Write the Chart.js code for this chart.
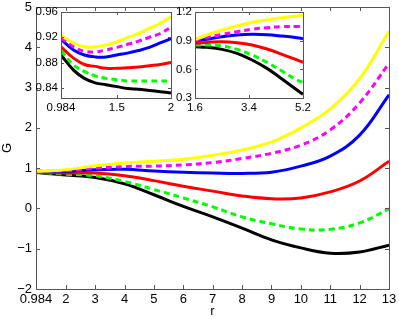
<!DOCTYPE html>
<html>
<head>
<meta charset="utf-8">
<script src="https://cdn.jsdelivr.net/npm/chart.js@4"></script>
<style>
  html, body { margin: 0; padding: 0; background: #fff; }
  #wrap { position: relative; width: 399px; height: 319px; }
  canvas { position: absolute; }
</style>
</head>
<body>
<div id="wrap">
  <canvas id="main" width="399" height="319" style="left:0;top:0"></canvas>
  <canvas id="inL" width="150" height="115" style="left:30px;top:0"></canvas>
  <canvas id="inR" width="155" height="115" style="left:165px;top:0"></canvas>
</div>
<script>
// main axes
const rMain = [0.984, 2, 3, 4, 5, 6, 7, 8, 9, 10, 11, 12, 13];
const mainYellow  = [0.92, 0.96, 1.06, 1.13, 1.17, 1.22, 1.32, 1.45, 1.65, 2.0, 2.47, 3.22, 4.4];
const mainMagenta = [0.92, 0.94, 1.0, 1.04, 1.05, 1.08, 1.14, 1.24, 1.37, 1.57, 1.95, 2.62, 3.6];
const mainBlue    = [0.92, 0.92, 0.96, 0.97, 0.93, 0.9, 0.88, 0.87, 0.9, 1.05, 1.3, 1.82, 2.82];
const mainRed     = [0.9, 0.88, 0.88, 0.81, 0.69, 0.55, 0.43, 0.31, 0.24, 0.26, 0.41, 0.68, 1.17];
const mainGreen   = [0.9, 0.85, 0.81, 0.67, 0.47, 0.26, 0.04, -0.21, -0.38, -0.51, -0.52, -0.36, -0.01];
const mainBlack   = [0.89, 0.83, 0.77, 0.61, 0.34, 0.05, -0.21, -0.49, -0.78, -0.98, -1.11, -1.08, -0.91];
const mainXTicks = [0.984, 2, 3, 4, 5, 6, 7, 8, 9, 10, 11, 12, 13];
const mainYTicks = [-2, -1, 0, 1, 2, 3, 4, 5];

// left inset (small r)
const rLeft = [0.984, 1.1, 1.2, 1.3, 1.4, 1.5, 1.6, 1.7, 1.8, 1.9, 2.0];
const leftYellow  = [0.923, 0.911, 0.905, 0.905, 0.908, 0.913, 0.92, 0.926, 0.934, 0.942, 0.953];
const leftMagenta = [0.919, 0.905, 0.898, 0.897, 0.9, 0.904, 0.909, 0.914, 0.92, 0.926, 0.936];
const leftBlue    = [0.917, 0.9, 0.892, 0.889, 0.889, 0.892, 0.895, 0.899, 0.904, 0.911, 0.918];
const leftRed     = [0.905, 0.887, 0.877, 0.874, 0.871, 0.871, 0.872, 0.873, 0.875, 0.877, 0.88];
const leftGreen   = [0.899, 0.876, 0.866, 0.859, 0.855, 0.853, 0.851, 0.851, 0.851, 0.851, 0.851];
const leftBlack   = [0.892, 0.868, 0.855, 0.848, 0.845, 0.842, 0.839, 0.838, 0.836, 0.834, 0.832];
const leftXTicks = [0.984, 1.5, 2];
const leftYTicks = [0.84, 0.88, 0.92, 0.96];

// right inset
const rRight = [1.6, 2, 2.5, 3, 3.5, 4, 4.5, 5, 5.2];
const rightYellow  = [0.914, 0.959, 1.012, 1.053, 1.092, 1.116, 1.141, 1.158, 1.169];
const rightMagenta = [0.907, 0.935, 0.966, 0.994, 1.019, 1.036, 1.047, 1.047, 1.047];
const rightBlue    = [0.897, 0.914, 0.942, 0.959, 0.966, 0.962, 0.948, 0.931, 0.921];
const rightRed     = [0.872, 0.882, 0.889, 0.879, 0.855, 0.813, 0.757, 0.698, 0.673];
const rightGreen   = [0.855, 0.855, 0.844, 0.809, 0.75, 0.673, 0.582, 0.488, 0.464];
const rightBlack   = [0.837, 0.83, 0.809, 0.767, 0.698, 0.61, 0.499, 0.384, 0.338];
const rightXTicks = [1.6, 3.4, 5.2];
const rightYTicks = [0.3, 0.6, 0.9, 1.2];

const FONT = "'Liberation Sans', Arial, Helvetica, sans-serif";

const fmt = (v) => (v < 0 ? "\u2212" + Math.abs(v) : String(v));

const line = (xs, ys, color, dashed) => ({
  data: xs.map((x, i) => ({ x: x, y: ys[i] })),
  borderColor: color,
  backgroundColor: color,
  borderWidth: 3,
  borderDash: dashed ? [6, 4] : [],
  pointRadius: 0,
  tension: 0.4,
  fill: false,
});

// white box, then frame + inward ticks on all four sides, matlab style
const boxPlugin = (tickLen) => ({
  id: "box",
  beforeDatasetsDraw(chart) {
    const a = chart.chartArea;
    const c = chart.ctx;
    c.save();
    c.fillStyle = "#fff";
    c.fillRect(a.left, a.top, a.right - a.left, a.bottom - a.top);
    c.restore();
  },
  afterDraw(chart) {
    const a = chart.chartArea;
    const c = chart.ctx;
    const x = chart.scales.x;
    const y = chart.scales.y;
    c.save();
    c.strokeStyle = "#555";
    c.lineWidth = 1;
    c.beginPath();
    x.ticks.forEach((t) => {
      const px = Math.round(x.getPixelForValue(t.value)) + 0.5;
      c.moveTo(px, a.bottom); c.lineTo(px, a.bottom - tickLen);
      c.moveTo(px, a.top); c.lineTo(px, a.top + tickLen);
    });
    y.ticks.forEach((t) => {
      const py = Math.round(y.getPixelForValue(t.value)) + 0.5;
      c.moveTo(a.left, py); c.lineTo(a.left + tickLen, py);
      c.moveTo(a.right, py); c.lineTo(a.right - tickLen, py);
    });
    c.stroke();
    c.strokeRect(Math.round(a.left) + 0.5, Math.round(a.top) + 0.5,
      Math.round(a.right - a.left), Math.round(a.bottom - a.top));
    c.restore();
  },
});

const makeChart = (id, series, xr, yr, xTicks, yTicks, geo, titles) => {
  const fontSize = geo.font;
  return new Chart(document.getElementById(id), {
    type: "line",
    data: { datasets: series },
    options: {
      responsive: false,
      animation: false,
      layout: { padding: { left: 0, top: geo.top, right: geo.right, bottom: 0 } },
      plugins: { legend: { display: false }, tooltip: { enabled: false } },
      scales: {
        x: {
          type: "linear",
          min: xr[0],
          max: xr[1],
          afterBuildTicks: (s) => { s.ticks = xTicks.map((v) => ({ value: v })); },
          afterFit: (s) => { s.height = geo.xh; s.paddingLeft = 0; s.paddingRight = 0; },
          grid: { display: false, drawTicks: false },
          border: { display: false },
          ticks: {
            autoSkip: false,
            maxRotation: 0,
            padding: geo.xpad,
            color: "#000",
            font: { family: FONT, size: fontSize },
            callback: (v) => fmt(v),
          },
          title: titles ? {
            display: true, text: "r", color: "#000",
            font: { family: FONT, size: 13 }, padding: { top: 0, bottom: 0 },
          } : { display: false },
        },
        y: {
          type: "linear",
          min: yr[0],
          max: yr[1],
          afterBuildTicks: (s) => { s.ticks = yTicks.map((v) => ({ value: v })); },
          afterFit: (s) => { s.width = geo.yw; s.paddingTop = 0; s.paddingBottom = 0; },
          grid: { display: false, drawTicks: false },
          border: { display: false },
          ticks: {
            autoSkip: false,
            padding: geo.ypad,
            color: "#000",
            font: { family: FONT, size: fontSize },
            callback: (v) => fmt(v),
          },
          title: titles ? {
            display: true, text: "G", color: "#000",
            font: { family: FONT, size: 13 }, padding: { top: 0, bottom: 0 },
          } : { display: false },
        },
      },
    },
    plugins: [boxPlugin(geo.tick)],
  });
};

makeChart("main", [
  line(rMain, mainYellow, "#ffff00", false),
  line(rMain, mainMagenta, "#ff00ff", true),
  line(rMain, mainBlue, "#0000ff", false),
  line(rMain, mainRed, "#ff0000", false),
  line(rMain, mainGreen, "#00ff00", true),
  line(rMain, mainBlack, "#000000", false),
], [0.984, 13], [-2, 5], mainXTicks, mainYTicks,
  { top: 7, right: 10, xh: 30, yw: 36, xpad: 3, ypad: 4, font: 13, tick: 4 }, true);

makeChart("inL", [
  line(rLeft, leftYellow, "#ffff00", false),
  line(rLeft, leftMagenta, "#ff00ff", true),
  line(rLeft, leftBlue, "#0000ff", false),
  line(rLeft, leftRed, "#ff0000", false),
  line(rLeft, leftGreen, "#00ff00", true),
  line(rLeft, leftBlack, "#000000", false),
], [0.984, 2], [0.824, 0.96], leftXTicks, leftYTicks,
  { top: 12, right: 9, xh: 17, yw: 31, xpad: 3, ypad: 3, font: 11.5, tick: 3 }, false);

makeChart("inR", [
  line(rRight, rightYellow, "#ffff00", false),
  line(rRight, rightMagenta, "#ff00ff", true),
  line(rRight, rightBlue, "#0000ff", false),
  line(rRight, rightRed, "#ff0000", false),
  line(rRight, rightGreen, "#00ff00", true),
  line(rRight, rightBlack, "#000000", false),
], [1.6, 5.2], [0.3, 1.2], rightXTicks, rightYTicks,
  { top: 12, right: 17, xh: 17, yw: 30, xpad: 3, ypad: 3, font: 11.5, tick: 3 }, false);
</script>
</body>
</html>
